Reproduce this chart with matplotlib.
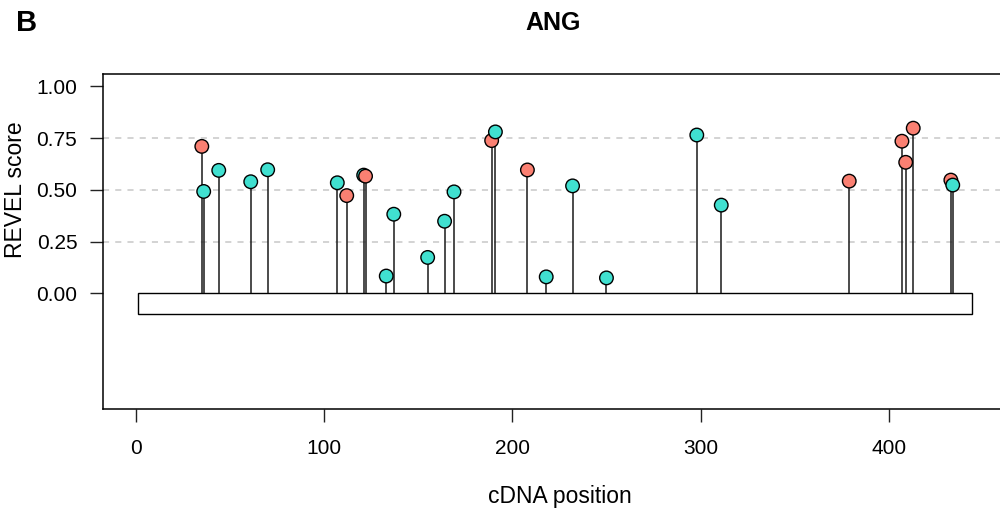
import numpy as np
import matplotlib
matplotlib.use("Agg")
import matplotlib.pyplot as plt
from matplotlib.patches import Rectangle

plt.rcParams['font.family'] = ['Liberation Sans', 'DejaVu Sans']

# variants along the ANG cDNA (position, REVEL score, group)
positions = [35, 36, 44, 61, 70, 107, 112, 121, 122, 133, 137, 155, 164, 169,
             189, 191, 208, 218, 232, 250, 298, 311, 379, 407, 409, 413, 433, 434]
scores = [0.710, 0.492, 0.594, 0.539, 0.597, 0.534, 0.472, 0.571, 0.566, 0.083,
          0.382, 0.173, 0.348, 0.490, 0.738, 0.780, 0.596, 0.079, 0.519, 0.074,
          0.765, 0.426, 0.542, 0.735, 0.633, 0.798, 0.547, 0.523]
groups = ['red', 'teal', 'teal', 'teal', 'teal', 'teal', 'red', 'teal', 'red', 'teal',
          'teal', 'teal', 'teal', 'teal', 'red', 'teal', 'red', 'teal', 'teal', 'teal',
          'teal', 'teal', 'red', 'red', 'red', 'red', 'red', 'teal']
cdna_length = 444
gene = "ANG"

colors = {'red': '#FA8072', 'teal': '#40E0D0'}

fig = plt.figure(figsize=(10, 5.15), dpi=100)
ax = fig.add_axes([0.103, 0.2058, 0.900, 0.6505])

ax.set_xlim(-17.5, 460.7)
ax.set_ylim(-0.5 - 0.04 * 1.5, 1.0 + 0.04 * 1.5)

# dashed reference lines
for yv in [0.25, 0.5, 0.75]:
    ax.axhline(yv, color='#C8C8C8', lw=1.1, ls=(0, (4, 4)), zorder=1)

# cDNA bar
ax.add_patch(Rectangle((1, -0.1), cdna_length - 1, 0.1, facecolor='white',
                       edgecolor='black', lw=1.0, zorder=2))

# stems
ax.vlines(positions, 0, scores, color='#1a1a1a', lw=1.1, zorder=3)

# heads, drawn in position order
ax.scatter(positions, scores, s=95, c=[colors[g] for g in groups],
           edgecolors='black', linewidths=1.0, zorder=4)

ax.set_yticks([0, 0.25, 0.5, 0.75, 1.0])
ax.set_yticklabels(['0.00', '0.25', '0.50', '0.75', '1.00'])
ax.set_xticks([0, 100, 200, 300, 400])
ax.tick_params(axis='both', labelsize=15, length=9.5, width=1.0, color='#222222')
ax.tick_params(axis='y', pad=9)
ax.tick_params(axis='x', pad=12)
for sp in ax.spines.values():
    sp.set_linewidth(1.1)

ax.text(-0.0967, 0.5, 'REVEL score', rotation=90, fontsize=16.5,
        ha='center', va='center', transform=ax.get_yaxis_transform())
fig.text(0.56, 1 - 496 / 515, 'cDNA position', fontsize=16.5, ha='center', va='center')
fig.text(0.553, 1 - 23 / 515, gene, fontsize=18, fontweight='bold', ha='center', va='center')
fig.text(0.027, 1 - 23 / 515, 'B', fontsize=21, fontweight='bold', ha='center', va='center')

fig.savefig('out.png', dpi=100)
